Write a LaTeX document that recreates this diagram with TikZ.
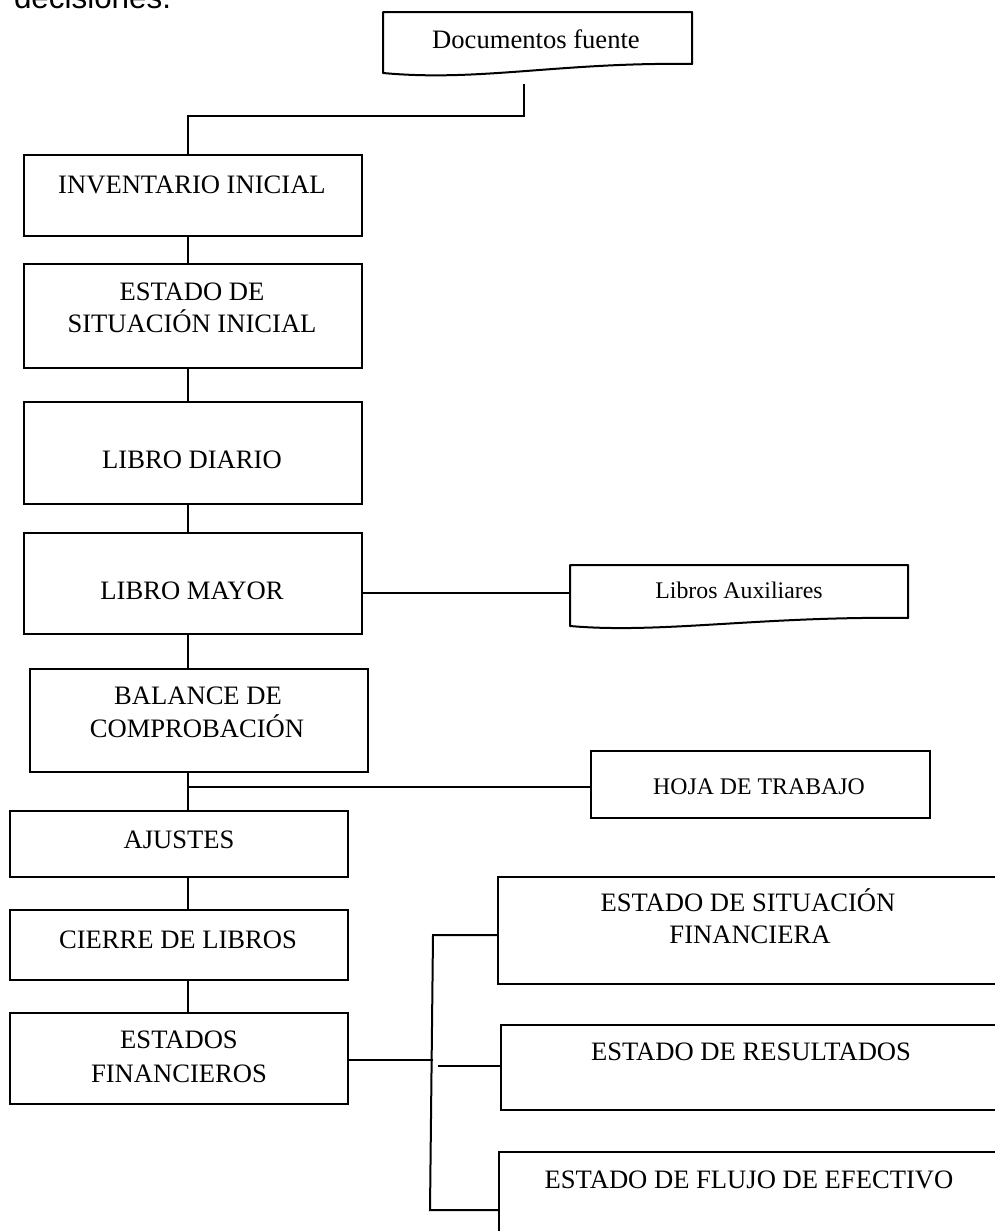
\documentclass[tikz,border=0pt]{standalone}
\usepackage{fontspec}
\setmainfont{Liberation Serif}
\newfontfamily\arialf{Liberation Sans}
\usetikzlibrary{fit,calc}
\begin{document}
\begin{tikzpicture}[x=0.5pt,y=-0.5pt,line width=1pt,
  box/.style={draw,inner sep=0pt,line width=1pt},
  lbl/.style={font=\fontsize{13.3}{16}\selectfont,anchor=base,inner sep=0pt},
  slbl/.style={font=\fontsize{11.9}{14}\selectfont,anchor=base,inner sep=0pt},
  docshape/.style={draw,line width=1pt,line join=round},
  conn/.style={draw,line width=1pt}]
\useasboundingbox (0,0) rectangle (995,1231);
\clip (0,0) rectangle (995,1231);

% cropped heading text
\node[font=\arialf\fontsize{15.7}{18}\selectfont,anchor=base west,inner sep=0pt] (head) at (13,9) {decisiones.};

% guide coordinates
\coordinate (spine) at (188,0);
\coordinate (bx) at (433,0);

% Documentos fuente (document shape)
\draw[docshape] (383,12) -- (692,12) -- (692,64) .. controls (560,62) and (480,82) .. (383,73) -- cycle;
\node[lbl] (doc-t) at (536,48) {Documentos fuente};
\coordinate (doc-b) at (524,84);

% main column boxes
\node[box,fit={(24,155) (362,236)}] (inv) {};
\node[box,fit={(24,264) (362,368)}] (esi) {};
\node[box,fit={(24,402) (362,504)}] (diario) {};
\node[box,fit={(24,533) (362,634)}] (mayor) {};
\node[box,fit={(30,669) (368,772)}] (bal) {};
\node[box,fit={(10,811) (348,877)}] (aju) {};
\node[box,fit={(10,910) (348,980)}] (cie) {};
\node[box,fit={(10,1013) (348,1104)}] (ef) {};

\node[lbl] (inv-t) at (192,193) {INVENTARIO INICIAL};
\node[lbl] (esi-t1) at (192,300) {ESTADO DE};
\node[lbl] (esi-t2) at (192,332) {SITUACIÓN INICIAL};
\node[lbl] (diario-t) at (192,468) {LIBRO DIARIO};
\node[lbl] (mayor-t) at (192,599) {LIBRO MAYOR};
\node[lbl] (bal-t1) at (198,704) {BALANCE DE};
\node[lbl] (bal-t2) at (197,737) {COMPROBACIÓN};
\node[lbl] (aju-t) at (179,848) {AJUSTES};
\node[lbl] (cie-t) at (178,948) {CIERRE DE LIBROS};
\node[lbl] (ef-t1) at (179,1048) {ESTADOS};
\node[lbl] (ef-t2) at (179,1082) {FINANCIEROS};

% Libros Auxiliares (document shape)
\draw[docshape] (570,565) -- (908,565) -- (908,618) .. controls (760,616) and (660,634) .. (570,626) -- cycle;
\node[slbl] (lib-t) at (739,598) {Libros Auxiliares};
\coordinate (lib-l) at (570,0);

% Hoja de trabajo
\node[box,fit={(591,751) (930,818)}] (hoja) {};
\node[slbl] (hoja-t) at (759,794) {HOJA DE TRABAJO};

% financial statements (cut off at right edge)
\node[box,fit={(498,877) (1010,984)}] (esf) {};
\node[box,fit={(501,1025) (1010,1110)}] (er) {};
\node[box,fit={(499,1152) (1010,1260)}] (efe) {};
\node[lbl] (esf-t1) at (748,911) {ESTADO DE SITUACIÓN};
\node[lbl] (esf-t2) at (750,943) {FINANCIERA};
\node[lbl] (er-t) at (751,1060) {ESTADO DE RESULTADOS};
\node[lbl] (efe-t) at (749,1188) {ESTADO DE FLUJO DE EFECTIVO};

% connectors
\coordinate (j1) at (524,116);
\draw[conn] (doc-b) -- (j1) -- (j1 -| spine) -- (inv.north -| spine);
\draw[conn] (inv.south -| spine) -- (esi.north -| spine);
\draw[conn] (esi.south -| spine) -- (diario.north -| spine);
\draw[conn] (diario.south -| spine) -- (mayor.north -| spine);
\draw[conn] (mayor.south -| spine) -- (bal.north -| spine);
\draw[conn] (bal.south -| spine) -- (aju.north -| spine);
\draw[conn] (aju.south -| spine) -- (cie.north -| spine);
\draw[conn] (cie.south -| spine) -- (ef.north -| spine);

\coordinate (j3) at (0,593);
\draw[conn] (j3 -| mayor.east) -- (j3 -| lib-l);

\coordinate (j2) at (188,787);
\draw[conn] (j2) -- (j2 -| hoja.west);

\coordinate (j4) at (0,1060);
\draw[conn] (j4 -| ef.east) -- (j4 -| bx);
\coordinate (brt) at (433,935);
\coordinate (brb) at (430,1210);
\coordinate (brm) at (438,1066);
\draw[conn] (brt -| esf.west) -- (brt) -- (brb) -- (brb -| efe.west);
\draw[conn] (brm) -- (brm -| er.west);
\end{tikzpicture}
\end{document}
